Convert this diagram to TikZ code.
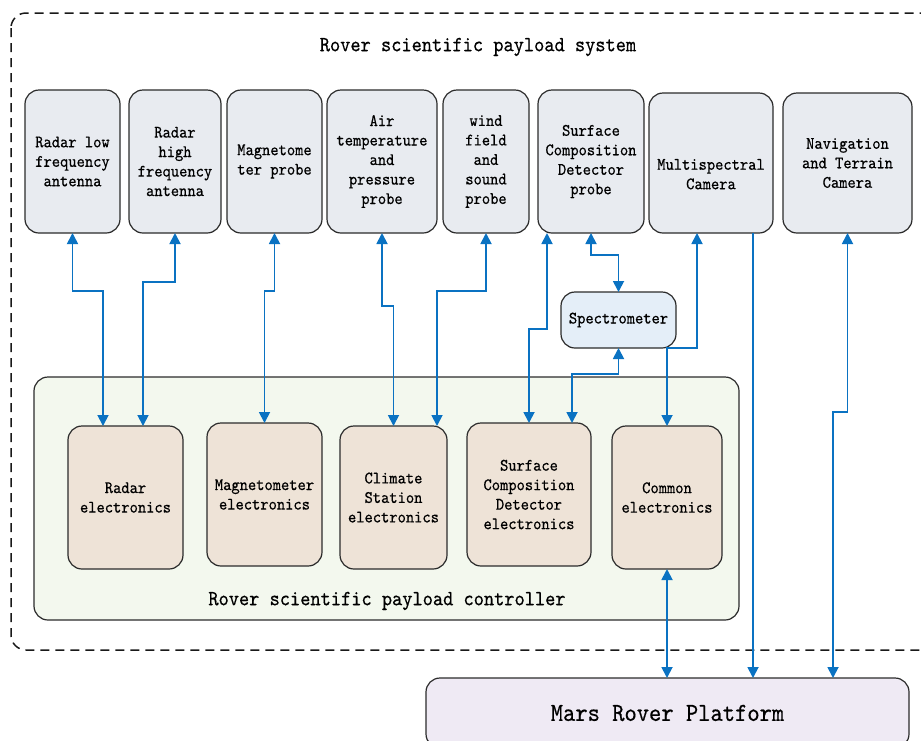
\documentclass[tikz,border=0pt]{standalone}
\usepackage{fontspec}
\newfontfamily\monofont{lmmono10-regular.otf}[FakeStretch=0.9, FakeBold=0.5]
\usetikzlibrary{arrows.meta}
\definecolor{topfill}{HTML}{E8EBF0}
\definecolor{specfill}{HTML}{E4EEF8}
\definecolor{elecfill}{HTML}{EEE3D7}
\definecolor{ctrlfill}{HTML}{F3F8EE}
\definecolor{platfill}{HTML}{EFEAF4}
\definecolor{arrowblue}{HTML}{0A72C2}
\definecolor{edge}{HTML}{2B2B2B}
\tikzset{
  box/.style={draw=edge, line width=1.2pt, rounded corners=14pt, inner sep=0pt, outer sep=0pt,
    align=center, font=\monofont\fontsize{17.5}{19.5}\selectfont},
  topbox/.style={box, fill=topfill},
  elecbox/.style={box, fill=elecfill},
  bi/.style={draw=arrowblue, line width=1.8pt,
    {Triangle[length=11pt,width=11pt]}-{Triangle[length=11pt,width=11pt]}},
  uni/.style={draw=arrowblue, line width=1.8pt, -{Triangle[length=11pt,width=11pt]}},
  title/.style={font=\monofont\fontsize{21.6}{24}\selectfont, inner sep=0pt}
}
\begin{document}
\begin{tikzpicture}[x=1pt,y=-1pt]
\useasboundingbox (0,0) rectangle (921,740);
\begin{scope}
\clip (0,0) rectangle (921,740);
\draw[draw=black!90, line width=1.5pt, dash pattern=on 9pt off 6pt, rounded corners=15pt]
  (11,13) rectangle (945,650);
\node[title] (systitle) at (478,47) {Rover scientific payload system};
% controller
\node[box, fill=ctrlfill, minimum width=705pt, minimum height=243pt] (ctrl) at (386.5,498.5) {};
\node[title] (ctrltitle) at (387,601) {Rover scientific payload controller};
% top boxes
\node[topbox, minimum width=95pt, minimum height=143pt] (rl) at (72.5,161.5) {Radar low\\frequency\\antenna};
\node[topbox, minimum width=92pt, minimum height=143pt] (rh) at (175,161.5) {Radar\\high\\frequency\\antenna};
\node[topbox, minimum width=95pt, minimum height=143pt] (mp) at (274.5,161.5) {Magnetome\\ter probe};
\node[topbox, minimum width=110pt, minimum height=143pt] (at) at (382,161.5) {Air\\temperature\\and\\pressure\\probe};
\node[topbox, minimum width=86pt, minimum height=143pt] (wf) at (486,161.5) {wind\\field\\and\\sound\\probe};
\node[topbox, minimum width=106pt, minimum height=143pt] (sp) at (591,161.5) {Surface\\Composition\\Detector\\probe};
\node[topbox, minimum width=124pt, minimum height=140pt] (mc) at (711,163) {\strut\\Multispectral\\Camera};
\node[topbox, minimum width=129pt, minimum height=140pt] (nav) at (847.5,163) {Navigation\\and Terrain\\Camera};
% spectrometer
\node[box, fill=specfill, minimum width=115pt, minimum height=56pt] (spec) at (618.5,320) {Spectrometer};
% electronics
\node[elecbox, minimum width=115pt, minimum height=143pt] (re) at (125.5,497.5) {Radar\\electronics};
\node[elecbox, minimum width=115pt, minimum height=143pt] (me) at (264.5,494.5) {Magnetometer\\electronics};
\node[elecbox, minimum width=107pt, minimum height=143pt] (ce) at (393.5,497.5) {Climate\\Station\\electronics};
\node[elecbox, minimum width=124pt, minimum height=143pt] (se) at (529,494.5) {Surface\\Composition\\Detector\\electronics};
\node[elecbox, minimum width=110pt, minimum height=143pt] (cm) at (667,497.5) {Common\\electronics};
% platform
\node[box, fill=platfill, minimum width=483pt, minimum height=70pt, font=\monofont\fontsize{26}{28}\selectfont] (mrp) at (667.5,713) {Mars Rover Platform};
% connectors
\draw[bi] (rl.south) -- ++(0,58) -| ([xshift=-22.5pt]re.north);
\draw[bi] (rh.south) -- ++(0,49) -| ([xshift=17.5pt]re.north);
\draw[bi] (mp.south) -- ++(0,58) -| (me.north);
\draw[bi] (at.south) -- ++(0,73) -| (ce.north);
\draw[bi] (wf.south) -- ++(0,58) -| ([xshift=43.5pt]ce.north);
\draw[bi] ([xshift=-44pt]sp.south) -- ++(0,96) -| (se.north);
\draw[bi] (sp.south) -- ++(0,22) -| (spec.north);
\draw[bi] (spec.south) -- ++(0,26) -| ([xshift=43pt]se.north);
\draw[bi] ([xshift=-14pt]mc.south) -- ++(0,115) -| (cm.north);
\draw[uni] ([xshift=42pt]mc.south) -- ([xshift=85.5pt]mrp.north);
\draw[bi] (nav.south) -- ++(0,179) -| ([xshift=165.5pt]mrp.north);
\draw[bi] (cm.south) -- (cm.south |- mrp.north);
\end{scope}
\end{tikzpicture}
\end{document}
